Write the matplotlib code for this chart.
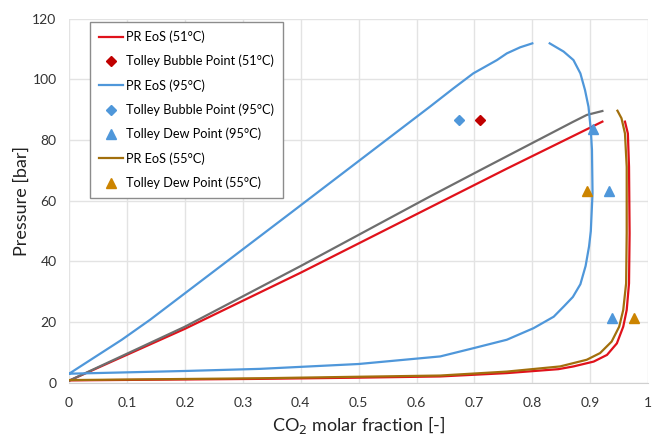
import numpy as np
import matplotlib
matplotlib.use("Agg")
import matplotlib.pyplot as plt

plt.rcParams['font.family'] = ['Lato', 'DejaVu Sans']

# PR EoS 51 C: bubble line, then dew branch
pr51_bub_x = [0.0, 0.2, 0.4, 0.623, 0.756, 0.921]
pr51_bub_y = [0.7, 17.8, 36.3, 57.8, 70.6, 86.1]
pr51_dew_x = [0.0, 0.33, 0.5, 0.641, 0.756, 0.845, 0.871, 0.906, 0.929, 0.946, 0.957,
              0.963, 0.967, 0.968, 0.967, 0.965, 0.960]
pr51_dew_y = [0.8, 1.3, 1.7, 2.1, 3.2, 4.5, 5.4, 7.0, 9.2, 13.0, 18.5,
              24.0, 32.8, 49.3, 71.2, 82.2, 86.1]

# gray line (55 C bubble side)
gray_x = [0.0, 0.2, 0.4, 0.623, 0.721, 0.87, 0.894, 0.921]
gray_y = [0.7, 18.5, 38.5, 61.4, 71.2, 86.0, 88.3, 89.6]

# PR EoS 95 C envelope (gap near the top)
pr95_x = [0.0, 0.2, 0.33, 0.5, 0.641, 0.698, 0.756, 0.802, 0.837, 0.855, 0.870,
          0.883, 0.892, 0.898, 0.901, 0.904, 0.903, 0.901, 0.897, 0.891, 0.883, 0.871,
          0.854, 0.83, np.nan, 0.8, 0.779, 0.756, 0.739, 0.698, 0.664, 0.623, 0.382,
          0.14, 0.091, 0.0]
pr95_y = [3.0, 3.9, 4.6, 6.2, 8.7, 11.4, 14.2, 18.0, 21.8, 25.3, 28.3,
          32.5, 38.5, 45.0, 50.0, 62.5, 76.8, 83.4, 91.0, 96.5, 102.0, 106.4,
          109.2, 111.9, np.nan, 111.9, 110.6, 108.6, 106.4, 102.0, 97.1, 91.0, 55.9,
          20.8, 14.2, 3.0]

# PR EoS 55 C dew branch
pr55_x = [0.0, 0.33, 0.5, 0.641, 0.756, 0.848, 0.894, 0.917, 0.937, 0.950, 0.957,
          0.962, 0.963, 0.963, 0.960, 0.954, 0.947]
pr55_y = [0.9, 1.5, 2.0, 2.4, 3.7, 5.4, 7.6, 9.8, 13.6, 18.5, 24.0,
          32.8, 49.3, 71.2, 82.2, 87.2, 89.7]

# Tolley data
bub51_x, bub51_y = [0.710], [86.5]
bub95_x, bub95_y = [0.674], [86.5]
dew95_x, dew95_y = [0.905, 0.933, 0.937], [83.8, 63.2, 21.3]
dew55_x, dew55_y = [0.895, 0.975], [63.2, 21.3]

fig = plt.figure(figsize=(6.58, 4.37), dpi=100)
ax = fig.add_axes([0.105, 0.124, 0.880, 0.833])

red = '#e0121b'
blue = '#4f97da'
brown = '#a26f0c'

ax.plot(pr51_bub_x, pr51_bub_y, color=red, lw=1.6, label='PR EoS (51°C)')
ax.plot(pr51_dew_x, pr51_dew_y, color=red, lw=1.6)
ax.plot(bub51_x, bub51_y, 'D', color='#c00000', ms=5.5, ls='none',
        label='Tolley Bubble Point (51°C)')
ax.plot(gray_x, gray_y, color='#6e6e6e', lw=1.6)
ax.plot(pr95_x, pr95_y, color=blue, lw=1.6, label='PR EoS (95°C)')
ax.plot(bub95_x, bub95_y, 'D', color=blue, ms=5.5, ls='none',
        label='Tolley Bubble Point (95°C)')
ax.plot(dew95_x, dew95_y, '^', color=blue, ms=7, ls='none',
        label='Tolley Dew Point (95°C)')
ax.plot(pr55_x, pr55_y, color=brown, lw=1.6, label='PR EoS (55°C)')
ax.plot(dew55_x, dew55_y, '^', color='#cc8400', ms=7, ls='none',
        label='Tolley Dew Point (55°C)')

ax.set_xlim(0, 1)
ax.set_ylim(0, 120)
ax.set_xticks(np.arange(0, 1.01, 0.1))
ax.set_xticklabels(['0', '0.1', '0.2', '0.3', '0.4', '0.5', '0.6', '0.7', '0.8', '0.9', '1'])
ax.set_yticks(np.arange(0, 121, 20))
ax.grid(True, color='#e3e3e3', lw=1)
ax.set_axisbelow(True)
for s in ax.spines.values():
    s.set_visible(False)
ax.spines['bottom'].set_visible(True)
ax.spines['bottom'].set_color('#d0d0d0')
ax.tick_params(length=0, labelsize=10, colors='#333333')
ax.tick_params(axis='x', pad=10)
ax.tick_params(axis='y', pad=9)

ax.set_xlabel('CO$_2$ molar fraction [-]', fontsize=13, color='#222222', labelpad=4)
ax.set_ylabel('Pressure [bar]', fontsize=13, color='#222222', labelpad=2)

leg = ax.legend(loc='upper left', bbox_to_anchor=(0.036, 0.992), borderaxespad=0,
                fontsize=9.2, labelspacing=0.92, handlelength=1.9, handletextpad=0.25,
                borderpad=0.7, fancybox=False, framealpha=1, edgecolor='#8c8c8c')
leg.get_frame().set_linewidth(1.0)

fig.savefig('out.png', dpi=100)
